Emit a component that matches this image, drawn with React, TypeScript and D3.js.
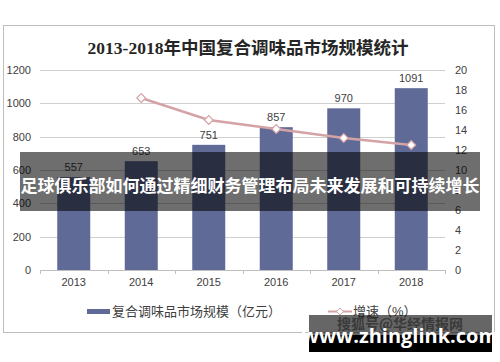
import { useEffect, useRef } from 'react';
import * as d3 from 'd3';

const years = ['2013', '2014', '2015', '2016', '2017', '2018'];
const marketSize = [557, 653, 751, 857, 970, 1091];
const growthYears = ['2014', '2015', '2016', '2017', '2018'];
const growthRate = [17.2, 15.0, 14.1, 13.2, 12.5];
const leftTicks = [0, 200, 400, 600, 800, 1000, 1200];
const rightTicks = [0, 2, 4, 6, 8, 10, 12, 14, 16, 18, 20];

const title = '2013-2018年中国复合调味品市场规模统计';
const barLegend = '复合调味品市场规模（亿元）';
const lineLegend = '增速（%）';
const bannerText = '足球俱乐部如何通过精细财务管理布局未来发展和可持续增长';

const App = () => {
	const ref = useRef<SVGSVGElement>(null);

	useEffect(() => {
		const svg = d3.select(ref.current);
		svg.selectAll('*').remove();

		const W = 500,
			H = 362;
		const plot = { left: 40, right: 445, top: 70, bottom: 270 };
		const font = '"Liberation Sans", "Noto Sans CJK SC", sans-serif';
		const barColor = '#5f6b96';
		const lineColor = '#d3a3a6';
		const labelColor = '#404040';

		svg.attr('width', W).attr('height', H);

		// background + outer frame
		svg.append('rect').attr('width', W).attr('height', H).attr('fill', '#fff');
		svg
			.append('rect')
			.attr('x', 3.5)
			.attr('y', 25.5)
			.attr('width', 491)
			.attr('height', 307)
			.attr('fill', '#fff')
			.attr('stroke', '#bdbdbd');

		// title
		svg
			.append('text')
			.attr('x', 248)
			.attr('y', 54)
			.attr('text-anchor', 'middle')
			.style('font-family', '"Liberation Serif", "Noto Sans CJK SC", serif')
			.style('font-weight', 'bold')
			.style('font-size', '17.5px')
			.attr('fill', '#262626')
			.text(title);

		const x = d3.scaleBand().domain(years).range([plot.left, plot.right]);
		const y = d3.scaleLinear().domain([0, 1200]).range([plot.bottom, plot.top]);
		const y2 = d3.scaleLinear().domain([0, 20]).range([plot.bottom, plot.top]);

		// gridlines
		svg
			.append('g')
			.selectAll('line')
			.data(leftTicks.filter((d) => d > 0))
			.join('line')
			.attr('x1', plot.left)
			.attr('x2', plot.right)
			.attr('y1', (d) => Math.round(y(d)) + 0.5)
			.attr('y2', (d) => Math.round(y(d)) + 0.5)
			.attr('stroke', '#d0d0d0');

		// left axis labels
		svg
			.append('g')
			.selectAll('text')
			.data(leftTicks)
			.join('text')
			.attr('x', 31)
			.attr('y', (d) => y(d) + 4)
			.attr('text-anchor', 'end')
			.style('font-family', font)
			.style('font-size', '11px')
			.attr('fill', labelColor)
			.text((d) => d);

		// right axis labels
		svg
			.append('g')
			.selectAll('text')
			.data(rightTicks)
			.join('text')
			.attr('x', 455)
			.attr('y', (d) => y2(d) + 4)
			.attr('text-anchor', 'start')
			.style('font-family', font)
			.style('font-size', '11px')
			.attr('fill', labelColor)
			.text((d) => d);

		// bars
		const bw = 33;
		svg
			.append('g')
			.attr('fill', barColor)
			.selectAll('rect')
			.data(marketSize)
			.join('rect')
			.attr('x', (d, i) => x(years[i])! + (x.bandwidth() - bw) / 2)
			.attr('y', (d) => y(d))
			.attr('width', bw)
			.attr('height', (d) => y(0) - y(d));

		// bar value labels
		svg
			.append('g')
			.selectAll('text')
			.data(marketSize)
			.join('text')
			.attr('x', (d, i) => x(years[i])! + x.bandwidth() / 2)
			.attr('y', (d) => y(d) - 6)
			.attr('text-anchor', 'middle')
			.style('font-family', font)
			.style('font-size', '11px')
			.attr('fill', labelColor)
			.text((d) => d);

		// x axis
		svg
			.append('line')
			.attr('x1', plot.left)
			.attr('x2', plot.right)
			.attr('y1', plot.bottom + 0.5)
			.attr('y2', plot.bottom + 0.5)
			.attr('stroke', '#bfbfbf');
		svg
			.append('g')
			.selectAll('line')
			.data(d3.range(years.length + 1))
			.join('line')
			.attr('x1', (i) => Math.round(plot.left + i * x.step()) + 0.5)
			.attr('x2', (i) => Math.round(plot.left + i * x.step()) + 0.5)
			.attr('y1', plot.bottom)
			.attr('y2', plot.bottom + 4)
			.attr('stroke', '#bfbfbf');
		svg
			.append('g')
			.selectAll('text')
			.data(years)
			.join('text')
			.attr('x', (d) => x(d)! + x.bandwidth() / 2)
			.attr('y', 286)
			.attr('text-anchor', 'middle')
			.style('font-family', font)
			.style('font-size', '11px')
			.attr('fill', labelColor)
			.text((d) => d);

		// growth line
		const line = d3
			.line<number>()
			.x((d, i) => x(growthYears[i])! + x.bandwidth() / 2)
			.y((d) => y2(d));
		svg
			.append('path')
			.datum(growthRate)
			.attr('d', line)
			.attr('fill', 'none')
			.attr('stroke', lineColor)
			.attr('stroke-width', 2.5);

		const diamond = d3.symbol().type(d3.symbolDiamond2).size(50);
		svg
			.append('g')
			.selectAll('path')
			.data(growthRate)
			.join('path')
			.attr('d', diamond)
			.attr('transform', (d, i) => `translate(${x(growthYears[i])! + x.bandwidth() / 2},${y2(d)})`)
			.attr('fill', '#fff')
			.attr('stroke', lineColor)
			.attr('stroke-width', 1.2);

		// legend
		svg.append('rect').attr('x', 87).attr('y', 309).attr('width', 23).attr('height', 5).attr('fill', barColor);
		svg
			.append('text')
			.attr('x', 112)
			.attr('y', 316)
			.style('font-family', font)
			.style('font-size', '13px')
			.attr('fill', labelColor)
			.text(barLegend);
		svg
			.append('line')
			.attr('x1', 328)
			.attr('x2', 352)
			.attr('y1', 311.5)
			.attr('y2', 311.5)
			.attr('stroke', lineColor)
			.attr('stroke-width', 2);
		svg
			.append('path')
			.attr('d', d3.symbol().type(d3.symbolDiamond2).size(30))
			.attr('transform', 'translate(340,311.5)')
			.attr('fill', '#fff')
			.attr('stroke', lineColor);
		svg
			.append('text')
			.attr('x', 353)
			.attr('y', 316)
			.style('font-family', font)
			.style('font-size', '13px')
			.attr('fill', labelColor)
			.text(lineLegend);

		// overlay banner
		svg.append('rect').attr('x', 20).attr('y', 152).attr('width', 460).attr('height', 59).attr('fill', 'rgba(0,0,0,0.57)');
		svg
			.append('text')
			.attr('x', 250)
			.attr('y', 192)
			.attr('text-anchor', 'middle')
			.style('font-family', '"Noto Sans CJK SC", sans-serif')
			.style('font-weight', 'bold')
			.style('font-size', '17px')
			.attr('fill', '#fff')
			.text(bannerText);

		// watermark
		svg.append('rect').attr('x', 309).attr('y', 315).attr('width', 183).attr('height', 37).attr('fill', 'rgba(0,0,0,0.6)');
		svg.append('rect').attr('x', 309).attr('y', 335).attr('width', 183).attr('height', 17).attr('fill', '#000');
		svg
			.append('text')
			.attr('x', 400)
			.attr('y', 329)
			.attr('text-anchor', 'middle')
			.style('font-family', '"Noto Sans CJK SC", sans-serif')
			.style('font-weight', 'bold')
			.style('font-size', '14px')
			.attr('fill', '#3a3a3a')
			.text('搜狐号@华经情报网');
		svg
			.append('text')
			.attr('x', 400)
			.attr('y', 343)
			.attr('text-anchor', 'middle')
			.style('font-family', '"Open Sans", "DejaVu Sans", sans-serif')
			.style('font-weight', 'bold')
			.style('font-size', '20px')
			.attr('fill', '#fff')
			.text('www.zhinglink.com');
	}, []);

	return <svg ref={ref} width={500} height={362} style={{ position: 'absolute', left: 0, top: 0 }}></svg>;
};

export default App;
